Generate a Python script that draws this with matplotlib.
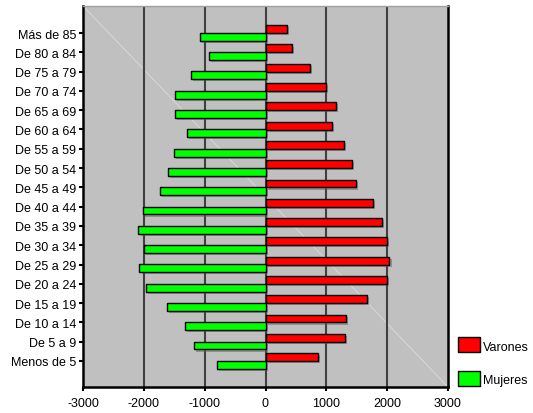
import matplotlib
matplotlib.use("Agg")
import matplotlib.pyplot as plt
import matplotlib.patheffects as pe
from matplotlib.patches import Rectangle
import numpy as np

plt.rcParams['font.family'] = ['Liberation Sans', 'DejaVu Sans']

categories = ["Menos de 5", "De 5 a 9", "De 10 a 14", "De 15 a 19", "De 20 a 24",
              "De 25 a 29", "De 30 a 34", "De 35 a 39", "De 40 a 44", "De 45 a 49",
              "De 50 a 54", "De 55 a 59", "De 60 a 64", "De 65 a 69", "De 70 a 74",
              "De 75 a 79", "De 80 a 84", "Más de 85"]
varones = [869, 1306, 1323, 1661, 2000, 2038, 1995, 1907, 1760, 1486,
           1415, 1284, 1093, 1153, 1000, 733, 431, 355]
mujeres = [-793, -1170, -1318, -1623, -1962, -2072, -2000, -2088, -2016, -1732,
           -1596, -1508, -1295, -1487, -1487, -1225, -925, -1072]
xticks = [-3000, -2000, -1000, 0, 1000, 2000, 3000]

W, H = 533, 414
fig = plt.figure(figsize=(W/100, H/100), dpi=100)
ax = fig.add_axes([83/W, 1-388/H, 365/W, 381/H])
ax.set_facecolor('#C0C0C0')

y = np.arange(len(categories))
shadow = [pe.SimplePatchShadow(offset=(1.5, -1.5), shadow_rgbFace='#606060', alpha=0.5), pe.Normal()]
bv = ax.barh(y + 0.2, varones, height=0.41, color='#FF0000', edgecolor='black', linewidth=1, zorder=3, label='Varones')
bm = ax.barh(y - 0.2, mujeres, height=0.41, color='#00FF00', edgecolor='black', linewidth=1, zorder=3, label='Mujeres')
for b in list(bv) + list(bm):
    b.set_path_effects(shadow)

ax.set_xlim(-3000, 3000)
ax.set_ylim(-1.35, 18.4)
ax.set_xticks(xticks)
ax.set_xticklabels([str(v) for v in xticks], fontsize=9)
ax.set_yticks(y)
ax.set_yticklabels(categories, fontsize=9)
for gx in [-2000, -1000, 0, 1000, 2000]:
    ax.axvline(gx, color='#404040', linewidth=1.5, zorder=1)
# faint diagonal
ax.plot([0, 1], [1, 0], transform=ax.transAxes, color='#DCDCDC', linewidth=0.6, zorder=0.5)

ax.tick_params(axis='both', direction='out', length=3, width=1.5, color='black', pad=2)
ax.tick_params(axis='x', pad=4)
for s in ['left', 'bottom', 'right']:
    ax.spines[s].set_color('black')
    ax.spines[s].set_linewidth(1.8)
ax.spines['top'].set_color('#A0A0A0')
ax.spines['top'].set_linewidth(1)

# legend
fig.patches.append(Rectangle((458/W, 1-353/H), 22/W, 15/H, transform=fig.transFigure,
                             facecolor='#FF0000', edgecolor='black', linewidth=1))
fig.patches.append(Rectangle((458/W, 1-387/H), 22/W, 15/H, transform=fig.transFigure,
                             facecolor='#00FF00', edgecolor='black', linewidth=1))
fig.text(483/W, 1-348/H, 'Varones', fontsize=9, va='center', ha='left')
fig.text(483/W, 1-381/H, 'Mujeres', fontsize=9, va='center', ha='left')

fig.savefig('out.png', dpi=100)
